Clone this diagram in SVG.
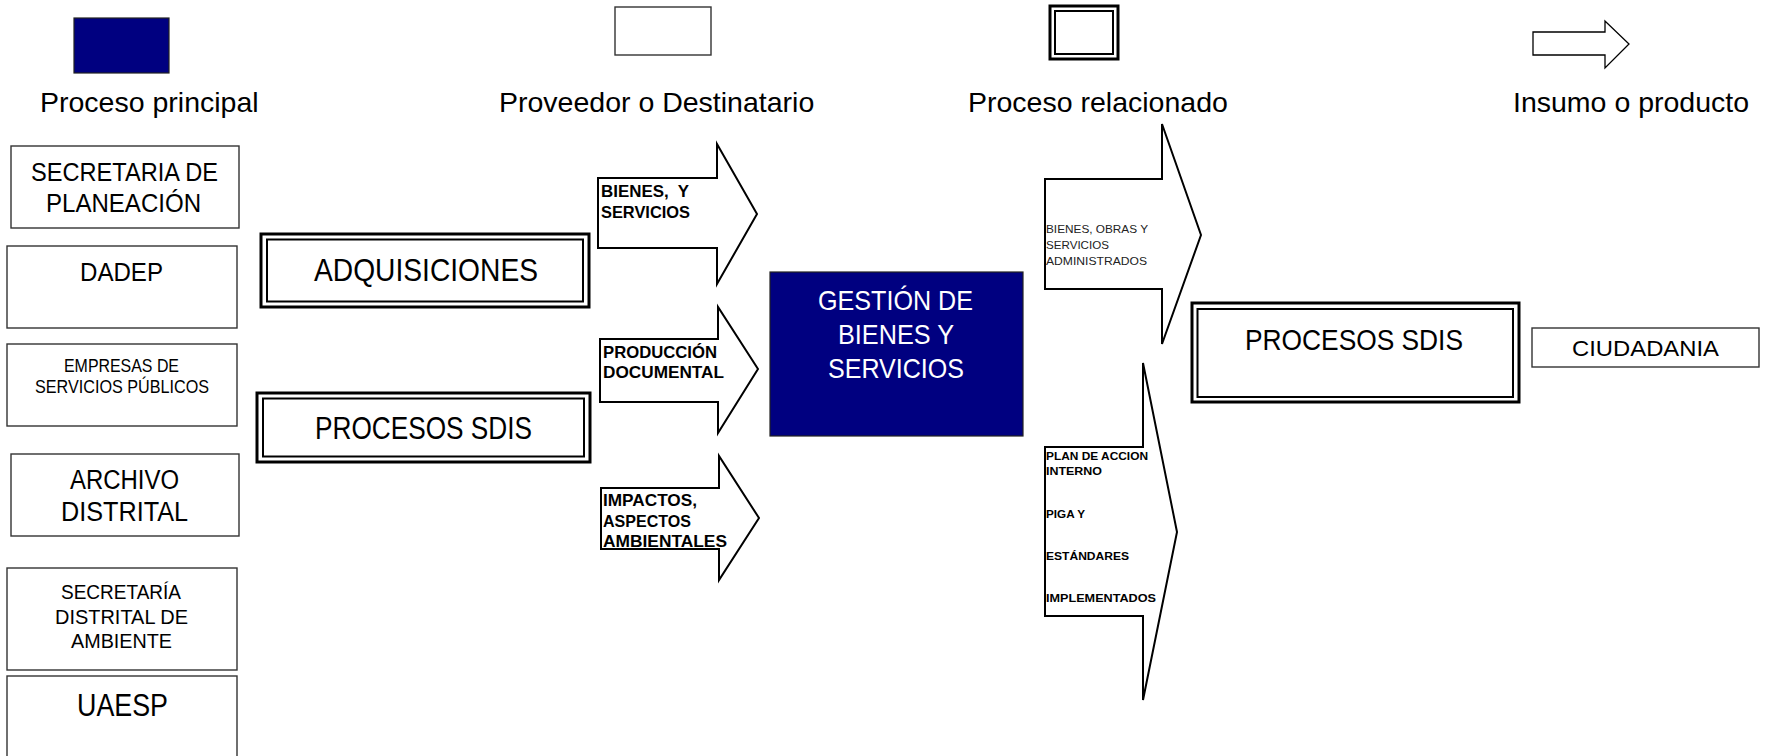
<svg xmlns="http://www.w3.org/2000/svg" width="1770" height="756" viewBox="0 0 1770 756">
<style>
  .box { fill: #ffffff; stroke: #333333; stroke-width: 1.4; }
  .dbl-out { fill: #ffffff; stroke: #000000; stroke-width: 3; }
  .dbl-in { fill: none; stroke: #000000; stroke-width: 2; }
  .main { fill: #000080; stroke: #222222; stroke-width: 1.2; }
  .arrow { fill: #ffffff; stroke: #000000; stroke-width: 2; stroke-linejoin: miter; }
  .legend-arrow { fill: #ffffff; stroke: #000000; stroke-width: 1.3; }
  .leg { font-family: "Liberation Sans", Arial, sans-serif; font-size: 28.5px; fill: #000000; }
  .nar { font-family: "Liberation Sans Narrow", "Liberation Sans", Arial, sans-serif; fill: #000000; text-anchor: start; }
  .albl { font-family: "Liberation Sans", Arial, sans-serif; font-weight: bold; fill: #000000; }
  .slbl { font-family: "Liberation Sans Narrow", "Liberation Sans", Arial, sans-serif; fill: #222222; }
  .wt { fill: #ffffff; }
</style>

<!-- Legend -->
<g id="legend">
  <g id="legend-principal">
    <rect class="main" x="74" y="18" width="95" height="55"/>
    <text class="leg" x="40" y="112">Proceso principal</text>
  </g>
  <g id="legend-proveedor">
    <rect class="box" x="615" y="7" width="96" height="48"/>
    <text class="leg" x="499" y="112">Proveedor o Destinatario</text>
  </g>
  <g id="legend-relacionado">
    <rect class="dbl-out" x="1050" y="6" width="68" height="53"/>
    <rect class="dbl-in" x="1055" y="11" width="58" height="43"/>
    <text class="leg" x="968" y="112">Proceso relacionado</text>
  </g>
  <g id="legend-insumo">
    <polygon class="legend-arrow" points="1533,32 1605,32 1605,21 1629,44 1605,68 1605,55 1533,55"/>
    <text class="leg" x="1513" y="112">Insumo o producto</text>
  </g>
</g>

<!-- Suppliers -->
<g id="secretaria-planeacion">
  <rect class="box" x="11" y="146" width="228" height="82"/>
  <text class="nar" x="31" y="181" font-size="26" textLength="187" lengthAdjust="spacingAndGlyphs">SECRETARIA DE</text>
  <text class="nar" x="46" y="212" font-size="26" textLength="155" lengthAdjust="spacingAndGlyphs">PLANEACIÓN</text>
</g>
<g id="dadep">
  <rect class="box" x="7" y="246" width="230" height="82"/>
  <text class="nar" x="80" y="281" font-size="26" textLength="83" lengthAdjust="spacingAndGlyphs">DADEP</text>
</g>
<g id="empresas-servicios">
  <rect class="box" x="7" y="344" width="230" height="82"/>
  <text class="nar" x="64" y="372" font-size="18" textLength="115" lengthAdjust="spacingAndGlyphs">EMPRESAS DE</text>
  <text class="nar" x="35" y="393" font-size="18" textLength="174" lengthAdjust="spacingAndGlyphs">SERVICIOS PÚBLICOS</text>
</g>
<g id="archivo-distrital">
  <rect class="box" x="11" y="454" width="228" height="82"/>
  <text class="nar" x="70" y="489" font-size="27" textLength="109" lengthAdjust="spacingAndGlyphs">ARCHIVO</text>
  <text class="nar" x="61" y="521" font-size="27" textLength="127" lengthAdjust="spacingAndGlyphs">DISTRITAL</text>
</g>
<g id="secretaria-ambiente">
  <rect class="box" x="7" y="568" width="230" height="102"/>
  <text class="nar" x="61" y="599" font-size="19.5" textLength="120" lengthAdjust="spacingAndGlyphs">SECRETARÍA</text>
  <text class="nar" x="55" y="624" font-size="19.5" textLength="133" lengthAdjust="spacingAndGlyphs">DISTRITAL DE</text>
  <text class="nar" x="71" y="648" font-size="19.5" textLength="101" lengthAdjust="spacingAndGlyphs">AMBIENTE</text>
</g>
<g id="uaesp">
  <rect class="box" x="7" y="676" width="230" height="90"/>
  <text class="nar" x="77" y="716" font-size="31" textLength="91" lengthAdjust="spacingAndGlyphs">UAESP</text>
</g>

<!-- Related processes -->
<g id="adquisiciones">
  <rect class="dbl-out" x="261" y="234" width="328" height="73"/>
  <rect class="dbl-in" x="267" y="239.5" width="316" height="62"/>
  <text class="nar" x="314" y="281" font-size="31" textLength="224" lengthAdjust="spacingAndGlyphs">ADQUISICIONES</text>
</g>
<g id="procesos-sdis-in">
  <rect class="dbl-out" x="257" y="393" width="333" height="69"/>
  <rect class="dbl-in" x="263" y="398.5" width="321" height="58"/>
  <text class="nar" x="315" y="439" font-size="31" textLength="217" lengthAdjust="spacingAndGlyphs">PROCESOS SDIS</text>
</g>

<!-- Main process -->
<g id="gestion-bienes-servicios">
  <rect class="main" x="770" y="272" width="253" height="164"/>
  <text class="nar wt" x="818" y="310" font-size="28" textLength="155" lengthAdjust="spacingAndGlyphs">GESTIÓN DE</text>
  <text class="nar wt" x="838" y="344" font-size="28" textLength="116" lengthAdjust="spacingAndGlyphs">BIENES Y</text>
  <text class="nar wt" x="828" y="378" font-size="28" textLength="136" lengthAdjust="spacingAndGlyphs">SERVICIOS</text>
</g>

<!-- Output receivers -->
<g id="procesos-sdis-out">
  <rect class="dbl-out" x="1192" y="303" width="327" height="99"/>
  <rect class="dbl-in" x="1197.5" y="309" width="315.5" height="88"/>
  <text class="nar" x="1245" y="350" font-size="30" textLength="218" lengthAdjust="spacingAndGlyphs">PROCESOS SDIS</text>
</g>
<g id="ciudadania">
  <rect class="box" x="1532" y="328" width="227" height="39"/>
  <text class="nar" x="1572" y="356" font-size="22" textLength="147" lengthAdjust="spacingAndGlyphs">CIUDADANIA</text>
</g>

<!-- Connectors (block arrows) -->
<g id="connectors">
  <g id="arrow-bienes-servicios">
    <polygon class="arrow" points="598,178 717,178 717,144 757,214 717,284 717,248 598,248"/>
    <text class="albl" x="601" y="197" font-size="16.5" textLength="88" lengthAdjust="spacingAndGlyphs" xml:space="preserve">BIENES,  Y</text>
    <text class="albl" x="601" y="218" font-size="16.5" textLength="89" lengthAdjust="spacingAndGlyphs">SERVICIOS</text>
  </g>
  <g id="arrow-produccion-documental">
    <polygon class="arrow" points="600,339 718,339 718,307 758,369 718,433 718,402 600,402"/>
    <text class="albl" x="603" y="358" font-size="16.5" textLength="114" lengthAdjust="spacingAndGlyphs">PRODUCCIÓN</text>
    <text class="albl" x="603" y="378" font-size="16.5" textLength="121" lengthAdjust="spacingAndGlyphs">DOCUMENTAL</text>
  </g>
  <g id="arrow-impactos">
    <polygon class="arrow" points="601,488 719,488 719,456 759,518 719,580 719,549 601,549"/>
    <text class="albl" x="603" y="506" font-size="16.5" textLength="94" lengthAdjust="spacingAndGlyphs">IMPACTOS,</text>
    <text class="albl" x="603" y="527" font-size="16.5" textLength="88" lengthAdjust="spacingAndGlyphs">ASPECTOS</text>
    <text class="albl" x="603" y="547" font-size="16.5" textLength="124" lengthAdjust="spacingAndGlyphs">AMBIENTALES</text>
  </g>
  <g id="arrow-bienes-obras">
    <polygon class="arrow" points="1045,179 1162,179 1162,124 1201,235 1162,344 1162,289 1045,289"/>
    <text class="slbl" x="1046" y="233" font-size="11.5" textLength="102" lengthAdjust="spacingAndGlyphs">BIENES, OBRAS Y</text>
    <text class="slbl" x="1046" y="249" font-size="11.5" textLength="63" lengthAdjust="spacingAndGlyphs">SERVICIOS</text>
    <text class="slbl" x="1046" y="265" font-size="11.5" textLength="101" lengthAdjust="spacingAndGlyphs">ADMINISTRADOS</text>
  </g>
  <g id="arrow-plan-accion">
    <polygon class="arrow" points="1045,447 1143,447 1143,363 1177,532 1143,700 1143,616 1045,616"/>
    <text class="albl" x="1046" y="460" font-size="11.5" textLength="102" lengthAdjust="spacingAndGlyphs">PLAN DE ACCION</text>
    <text class="albl" x="1046" y="475" font-size="11.5" textLength="56" lengthAdjust="spacingAndGlyphs">INTERNO</text>
    <text class="albl" x="1046" y="518" font-size="11.5" textLength="39" lengthAdjust="spacingAndGlyphs">PIGA Y</text>
    <text class="albl" x="1046" y="560" font-size="11.5" textLength="83" lengthAdjust="spacingAndGlyphs">ESTÁNDARES</text>
    <text class="albl" x="1046" y="602" font-size="11.5" textLength="110" lengthAdjust="spacingAndGlyphs">IMPLEMENTADOS</text>
  </g>
</g>
</svg>
